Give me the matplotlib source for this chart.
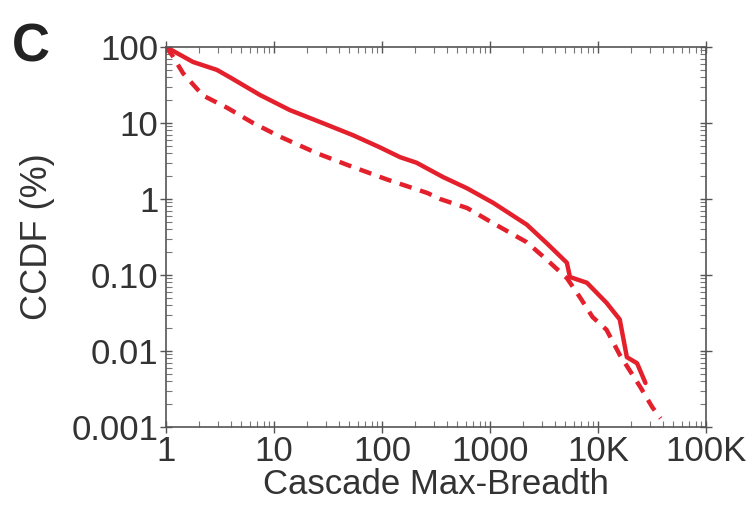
import matplotlib.pyplot as plt
from matplotlib.ticker import FixedLocator, NullFormatter

plt.rcParams['font.family'] = ['Liberation Sans', 'DejaVu Sans']

# Solid curve
solid_x = [1, 1.78, 2.96, 3.9, 7.4, 14, 26.7, 54, 95, 147, 209, 366, 615, 1070,
           2190, 3370, 5150, 5500, 7900, 12000, 15900, 18500, 23000, 27500]
solid_y = [100, 63.5, 50, 40, 23.4, 14.8, 10.3, 6.9, 4.8, 3.55, 3.0, 1.95, 1.38, 0.89,
           0.46, 0.26, 0.145, 0.094, 0.079, 0.043, 0.026, 0.0083, 0.0069, 0.0038]

# Dashed curve
dashed_x = [1, 1.14, 1.44, 2.2, 3.7, 6.4, 11.4, 25, 48, 112, 263, 345, 615, 1070,
            2190, 3370, 5150, 6800, 8900, 12000, 15900, 24500, 32000, 38000]
dashed_y = [100, 78, 45, 23, 15.8, 10, 6.6, 4.0, 2.8, 1.8, 1.2, 1.0, 0.76, 0.48,
            0.27, 0.158, 0.091, 0.051, 0.028, 0.019, 0.0089, 0.0034, 0.0018, 0.0013]

x_ticks = [1, 10, 100, 1000, 1e4, 1e5]
x_labels = ['1', '10', '100', '1000', '10K', '100K']
y_ticks = [0.001, 0.01, 0.1, 1, 10, 100]
y_labels = ['0.001', '0.01', '0.10', '1', '10', '100']

red = '#e3202b'

fig = plt.figure(figsize=(7.54, 5.14), dpi=100)
ax = fig.add_axes([166 / 754, 1 - 427 / 514, 540 / 754, 380 / 514])

ax.plot(solid_x, solid_y, color=red, lw=3.2, solid_capstyle='round')
ax.plot(dashed_x, dashed_y, color=red, lw=3.2, linestyle=(0, (2.8, 2.0)))

ax.set_xscale('log')
ax.set_yscale('log')
ax.set_xlim(1, 1e5)
ax.set_ylim(0.001, 100)

ax.xaxis.set_major_locator(FixedLocator(x_ticks))
ax.set_xticklabels(x_labels)
ax.yaxis.set_major_locator(FixedLocator(y_ticks))
ax.set_yticklabels(y_labels)
x_minor = [m * d for d in x_ticks[:-1] for m in range(2, 10)]
y_minor = [m * d for d in y_ticks[:-1] for m in range(2, 10)]
ax.xaxis.set_minor_locator(FixedLocator(x_minor))
ax.yaxis.set_minor_locator(FixedLocator(y_minor))
ax.xaxis.set_minor_formatter(NullFormatter())
ax.yaxis.set_minor_formatter(NullFormatter())

for s in ax.spines.values():
    s.set_color('#555555')
    s.set_linewidth(1.2)
ax.tick_params(which='major', direction='inout', length=9, width=1, color='#555555',
               top=True, right=True, labelsize=25, labelcolor='#333333', pad=1)
ax.tick_params(which='minor', direction='in', length=4, width=0.8, color='#777777',
               top=True, right=True)

ax.set_xlabel('Cascade Max-Breadth', fontsize=25, color='#333333', labelpad=0)
ax.set_ylabel('CCDF (%)', fontsize=26, color='#333333', labelpad=12)

fig.text(12 / 754, 1 - 62 / 514, 'C', fontsize=38, fontweight='bold',
         color='#222222')

fig.savefig('out.png', dpi=100)
